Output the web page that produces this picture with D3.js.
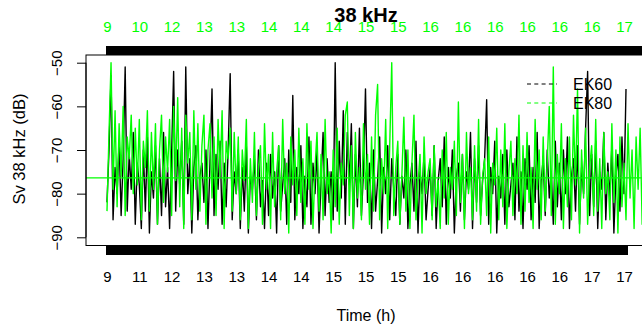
<!DOCTYPE html>
<html>
<head>
<meta charset="utf-8">
<script src="https://cdn.jsdelivr.net/npm/d3@7"></script>
<style>
  body { margin: 0; background: #fff; }
  svg { display: block; font-family: "Liberation Sans", Arial, sans-serif; }
</style>
</head>
<body>
<div id="chart"></div>
<script>
// Sv (dB) per ping index, EK60 (black) and EK80 (green)
const ek60 = [
  -82, -70, -53, -86, -74, -80, -68, -85, -72, -51, -84, -71, -79, -66, -87, -73,
  -78, -88, -70, -84, -67, -89, -75, -81, -69, -87, -72, -85, -66, -83, -74, -88,
  -71, -52, -84, -70, -78, -68, -87, -51, -80, -72, -89, -74, -69, -86, -76, -73,
  -82, -70, -88, -73, -56, -85, -71, -79, -68, -87, -73, -83, -70, -52.5, -86, -75,
  -80, -70, -88, -74, -84, -69, -89, -76, -79, -72, -86, -70, -83, -77, -88, -73,
  -85, -71, -81, -75, -89, -69, -84, -78, -72, -87, -70, -82, -57.5, -86, -74, -80,
  -69, -88, -76, -83, -67, -87, -73, -80, -70, -89, -77, -66, -85, -72, -82, -75,
  -86, -50, -84, -68, -81, -61, -87, -66, -78, -64, -88, -71, -83, -65, -85, -75,
  -56, -82, -73, -88, -70, -84, -77, -67, -89, -74, -80, -69, -86, -72, -79, -85,
  -71, -87, -76, -81, -70, -88, -78, -73, -84, -68, -89, -75, -80, -71, -86, -79,
  -74, -85, -69, -88, -77, -72, -83, -67, -87, -74, -81, -70, -89, -76, -73, -84,
  -71, -86, -75, -79, -66, -88, -72, -82, -69, -85, -77, -72, -58.5, -87, -74, -80,
  -68, -89, -76, -81, -71, -87, -70, -83, -78, -73, -86, -67, -84, -75, -88, -72,
  -79, -69, -86, -74, -82, -66, -88, -77, -72, -85, -70, -81, -75, -87, -68, -83,
  -73, -86, -70, -80, -67, -88, -76, -72, -84, -69, -87, -74, -80, -65, -52, -85,
  -71, -83, -68, -88, -75, -79, -66, -86, -73, -81, -69, -89, -76, -71, -84, -67,
  -80, -56
];

const ek80 = [
  -84, -66, -50, -79, -61, -83, -64, -76, -60, -85, -67, -72, -62, -80, -65, -78,
  -63, -86, -68, -74, -61, -84, -66, -79, -64, -87, -70, -62, -82, -67, -75, -63,
  -85, -60, -77, -58, -83, -65, -88, -62, -73, -66, -86, -61, -79, -64, -84, -69,
  -62, -87, -70, -64, -81, -67, -85, -63, -76, -61, -88, -68, -72, -65, -84, -66,
  -80, -67, -86, -70, -77, -63, -88, -72, -82, -66, -85, -74, -69, -87, -64, -79,
  -71, -88, -66, -83, -75, -69, -86, -63, -80, -73, -89, -67, -78, -70, -85, -65,
  -82, -72, -87, -64, -79, -68, -88, -74, -66, -84, -71, -86, -63, -80, -75, -89,
  -70, -83, -65, -87, -73, -78, -62, -59, -85, -69, -88, -66, -81, -74, -86, -64,
  -79, -71, -87, -67, -84, -62, -55, -86, -72, -80, -63, -88, -69, -50, -85, -74,
  -68, -87, -76, -62.5, -84, -70, -88, -73, -62, -86, -78, -71, -89, -67, -80, -75,
  -72, -86, -69, -83, -77, -88, -70, -81, -66, -87, -74, -79, -68, -85, -59, -82,
  -71, -88, -66, -80, -74, -86, -69, -84, -63, -87, -76, -72, -85, -67, -89, -73,
  -78, -65, -86, -70, -83, -64, -88, -75, -68, -85, -72, -80, -62, -87, -69, -84,
  -66, -82, -74, -88, -63, -79, -70, -86, -67, -84, -73, -60, -85, -51, -87, -71,
  -80, -64, -88, -72, -83, -67, -86, -62, -78, -56, -89, -70, -81, -65, -87, -74,
  -69, -85, -63, -84, -72, -88, -66, -80, -75, -86, -64, -82, -70, -89, -67, -83,
  -73, -86, -64, -81, -70, -88, -67, -79, -65, -87, -74, -84, -63, -85, -71, -80
];

// hour labels written under every 16th ping
const ek60Hours = [9, 11, 12, 13, 13, 14, 14, 15, 15, 15, 16, 16, 16, 16, 16, 17, 17];
const ek80Hours = [9, 10, 12, 13, 13, 14, 14, 14, 15, 15, 16, 16, 16, 16, 16, 16, 17];
const labelEvery = 16;

const yTicks = [-50, -60, -70, -80, -90];
const ek80Mean = -76.4;

const width = 642;
const height = 331;
const box = { left: 86, top: 55, right: 646, bottom: 245.5 };

const svg = d3.select("#chart")
  .append("svg")
  .attr("width", width)
  .attr("height", height);

const x = d3.scaleLinear()
  .domain([0, ek60.length - 1])
  .range([107, 626]);

const y = d3.scaleLinear()
  .domain([-90, -50])
  .range([237.3, 62.7]);

svg.append("clipPath")
  .attr("id", "plot-clip")
  .append("rect")
  .attr("x", box.left)
  .attr("y", box.top)
  .attr("width", box.right - box.left)
  .attr("height", box.bottom - box.top);

const line = d3.line()
  .x((d, i) => x(i))
  .y(d => y(d));

const plot = svg.append("g").attr("clip-path", "url(#plot-clip)");

plot.append("path")
  .datum(ek60)
  .attr("fill", "none")
  .attr("stroke", "#000")
  .attr("stroke-width", 1.4)
  .attr("stroke-linejoin", "round")
  .attr("d", line);

plot.append("path")
  .datum(ek80)
  .attr("fill", "none")
  .attr("stroke", "#00ff00")
  .attr("stroke-width", 1.4)
  .attr("stroke-linejoin", "round")
  .attr("d", line);

plot.append("line")
  .attr("x1", box.left)
  .attr("x2", box.right)
  .attr("y1", y(ek80Mean))
  .attr("y2", y(ek80Mean))
  .attr("stroke", "#00ff00")
  .attr("stroke-width", 1.2);

svg.append("rect")
  .attr("x", box.left)
  .attr("y", box.top)
  .attr("width", box.right - box.left)
  .attr("height", box.bottom - box.top)
  .attr("fill", "none")
  .attr("stroke", "#000")
  .attr("stroke-width", 1);

const hourFormat = labels => i => (i % labelEvery === 0 ? labels[i / labelEvery] ?? "" : "");

const bottomAxis = g =>
  g
    .attr("transform", `translate(0,${box.bottom + 0.5})`)
    .call(d3.axisBottom(x)
      .tickValues(d3.range(ek60.length))
      .tickSize(9)
      .tickPadding(16)
      .tickFormat(hourFormat(ek60Hours)))
    .call(g => g.select(".domain").remove())
    .call(g => g.selectAll(".tick line").attr("stroke-width", 3))
    .call(g => g.selectAll(".tick text").attr("fill", "#000"));

const topAxis = g =>
  g
    .attr("transform", `translate(0,${box.top})`)
    .call(d3.axisTop(x)
      .tickValues(d3.range(ek80.length))
      .tickSize(9)
      .tickPadding(14)
      .tickFormat(hourFormat(ek80Hours)))
    .call(g => g.select(".domain").remove())
    .call(g => g.selectAll(".tick line").attr("stroke-width", 3))
    .call(g => g.selectAll(".tick text").attr("fill", "#00ff00"));

const leftAxis = g =>
  g
    .attr("transform", `translate(${box.left},0)`)
    .call(d3.axisLeft(y).tickValues(yTicks).tickSize(9).tickSizeOuter(0))
    .call(g => g.select(".domain").attr("d", `M0,${y(-50)}V${y(-90)}`))
    .call(g => g.selectAll(".tick text")
      .attr("x", 0)
      .attr("dy", 0)
      .attr("text-anchor", "middle")
      .attr("fill", "#000")
      .attr("transform", "translate(-24,0) rotate(-90)"));

svg.append("g").call(bottomAxis).attr("font-size", 15).attr("font-family", null);
svg.append("g").call(topAxis).attr("font-size", 15).attr("font-family", null);
svg.append("g").call(leftAxis).attr("font-size", 15).attr("font-family", null);

// the title sits over the top hour labels, as in the original plot
svg.append("text")
  .attr("x", 366)
  .attr("y", 22)
  .attr("text-anchor", "middle")
  .attr("font-size", 20)
  .attr("font-weight", "bold")
  .text("38 kHz");

svg.append("text")
  .attr("x", 366)
  .attr("y", 321)
  .attr("text-anchor", "middle")
  .attr("font-size", 16)
  .text("Time (h)");

svg.append("text")
  .attr("transform", "translate(25,149) rotate(-90)")
  .attr("text-anchor", "middle")
  .attr("font-size", 16.5)
  .text("Sv 38 kHz (dB)");

// legend
const legendItems = [
  { label: "EK60", color: "#000" },
  { label: "EK80", color: "#00ff00" }
];

const legend = svg.append("g")
  .selectAll("g")
  .data(legendItems)
  .join("g")
  .attr("transform", (d, i) => `translate(527,${84 + i * 19})`);

legend.append("line")
  .attr("x1", 0)
  .attr("x2", 30)
  .attr("stroke", d => d.color)
  .attr("stroke-width", 1)
  .attr("stroke-dasharray", "4,3.3");

legend.append("text")
  .attr("x", 46)
  .attr("y", 6)
  .attr("font-size", 16)
  .attr("fill", "#000")
  .text(d => d.label);
</script>
</body>
</html>
